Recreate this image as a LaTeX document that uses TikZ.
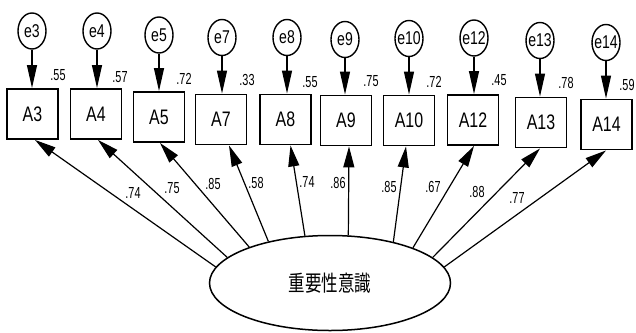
\documentclass[tikz,border=0pt]{standalone}
\usepackage{fontspec}
\setmainfont{Liberation Sans}
\newfontfamily\boxfont{Liberation Sans}[FakeStretch=0.76]
\newfontfamily\numfont{Liberation Sans}[FakeStretch=0.68]
\newfontfamily\cjk{Noto Sans CJK JP}[FakeStretch=0.75]
\usetikzlibrary{shapes.geometric,arrows.meta}
\tikzset{
  obs/.style={draw, line width=1.9pt, minimum width=51pt, minimum height=50pt, inner sep=0pt, font=\boxfont\fontsize{21}{21}\selectfont},
  err/.style={draw, ellipse, line width=1.4pt, minimum width=28pt, minimum height=36pt, inner sep=0pt, label={[font=\boxfont\fontsize{18.5}{18.5}\selectfont, inner sep=0pt]center:#1}},
  lat/.style={draw, ellipse, line width=1.5pt, minimum width=241pt, minimum height=95pt, inner sep=0pt, font=\cjk\fontsize{22}{22}\selectfont},
  num/.style={font=\numfont\fontsize{16}{16}\selectfont, inner sep=0pt},
  arr/.style={line width=1.2pt, -{Triangle[length=21pt,width=11pt]}},
  earr/.style={line width=1.2pt, -{Triangle[length=23pt,width=10pt]}}
}
\begin{document}
\begin{tikzpicture}[x=1pt,y=-1pt]
\useasboundingbox (0,0) rectangle (636,332);
% latent
\node[lat] (L) at (330,283) {重要性意識};
% observed
\node[obs] (A3) at (32.5,114) {A3};
\node[obs] (A4) at (96,114) {A4};
\node[obs] (A5) at (159,117) {A5};
\node[obs] (A7) at (221,119.5) {A7};
\node[obs] (A8) at (285.5,119.5) {A8};
\node[obs] (A9) at (346,120.5) {A9};
\node[obs] (A10) at (409,120.5) {A10};
\node[obs] (A12) at (473,120) {A12};
\node[obs] (A13) at (541,122.5) {A13};
\node[obs] (A14) at (606.5,124.5) {A14};
% errors
\node[err=e3] (e3) at (32,31) {};
\node[err=e4] (e4) at (97,31) {};
\node[err=e5] (e5) at (159,35) {};
\node[err=e7] (e7) at (222,37.5) {};
\node[err=e8] (e8) at (287,37.5) {};
\node[err=e9] (e9) at (345,39.5) {};
\node[err=e10] (e10) at (409,38.5) {};
\node[err=e12] (e12) at (474,38) {};
\node[err=e13] (e13) at (540,40.5) {};
\node[err=e14] (e14) at (606,42.5) {};
% error arrows
\foreach \e/\a in {e3/A3,e4/A4,e5/A5,e7/A7,e8/A8,e9/A9,e10/A10,e12/A12,e13/A13,e14/A14}
  \draw[earr] (\e.south) -- (\e.south |- \a.north);
% loading arrows
\draw[arr] (L.172.4) -- ([xshift=2.5pt]A3.south);
\draw[arr] (L.166.1) -- ([xshift=2pt]A4.south);
\draw[arr] (L.156.9) -- ([xshift=1pt]A5.south);
\draw[arr] (L.146.1) -- ([xshift=8pt]A7.south);
\draw[arr] (L.118) -- ([xshift=5pt]A8.south);
\draw[arr] (L.69.4) -- ([xshift=3pt]A9.south);
\draw[arr] (L.33.1) -- ([xshift=-3pt]A10.south);
\draw[arr] (L.23.1) -- ([xshift=1pt]A12.south);
\draw[arr] (L.14.4) -- ([xshift=-1pt]A13.south);
\draw[arr] (L.8) -- ([xshift=-0.5pt]A14.south);
% squared multiple correlations
\node[num] (r3) at (58,75) {.55};
\node[num] (r4) at (120,77) {.57};
\node[num] (r5) at (184,79) {.72};
\node[num] (r7) at (247,80) {.33};
\node[num] (r8) at (310,82) {.55};
\node[num] (r9) at (371,81) {.75};
\node[num] (r10) at (434,82) {.72};
\node[num] (r12) at (499,80.5) {.45};
\node[num] (r13) at (566,82.5) {.78};
\node[num] (r14) at (627,85) {.59};
% loadings
\node[num] (p3) at (133,193) {.74};
\node[num] (p4) at (172,188) {.75};
\node[num] (p5) at (213,184) {.85};
\node[num] (p7) at (256,183) {.58};
\node[num] (p8) at (307,182) {.74};
\node[num] (p9) at (338,183) {.86};
\node[num] (p10) at (389,187) {.85};
\node[num] (p12) at (433,187) {.67};
\node[num] (p13) at (477,192) {.88};
\node[num] (p14) at (517,198) {.77};
\end{tikzpicture}
\end{document}
